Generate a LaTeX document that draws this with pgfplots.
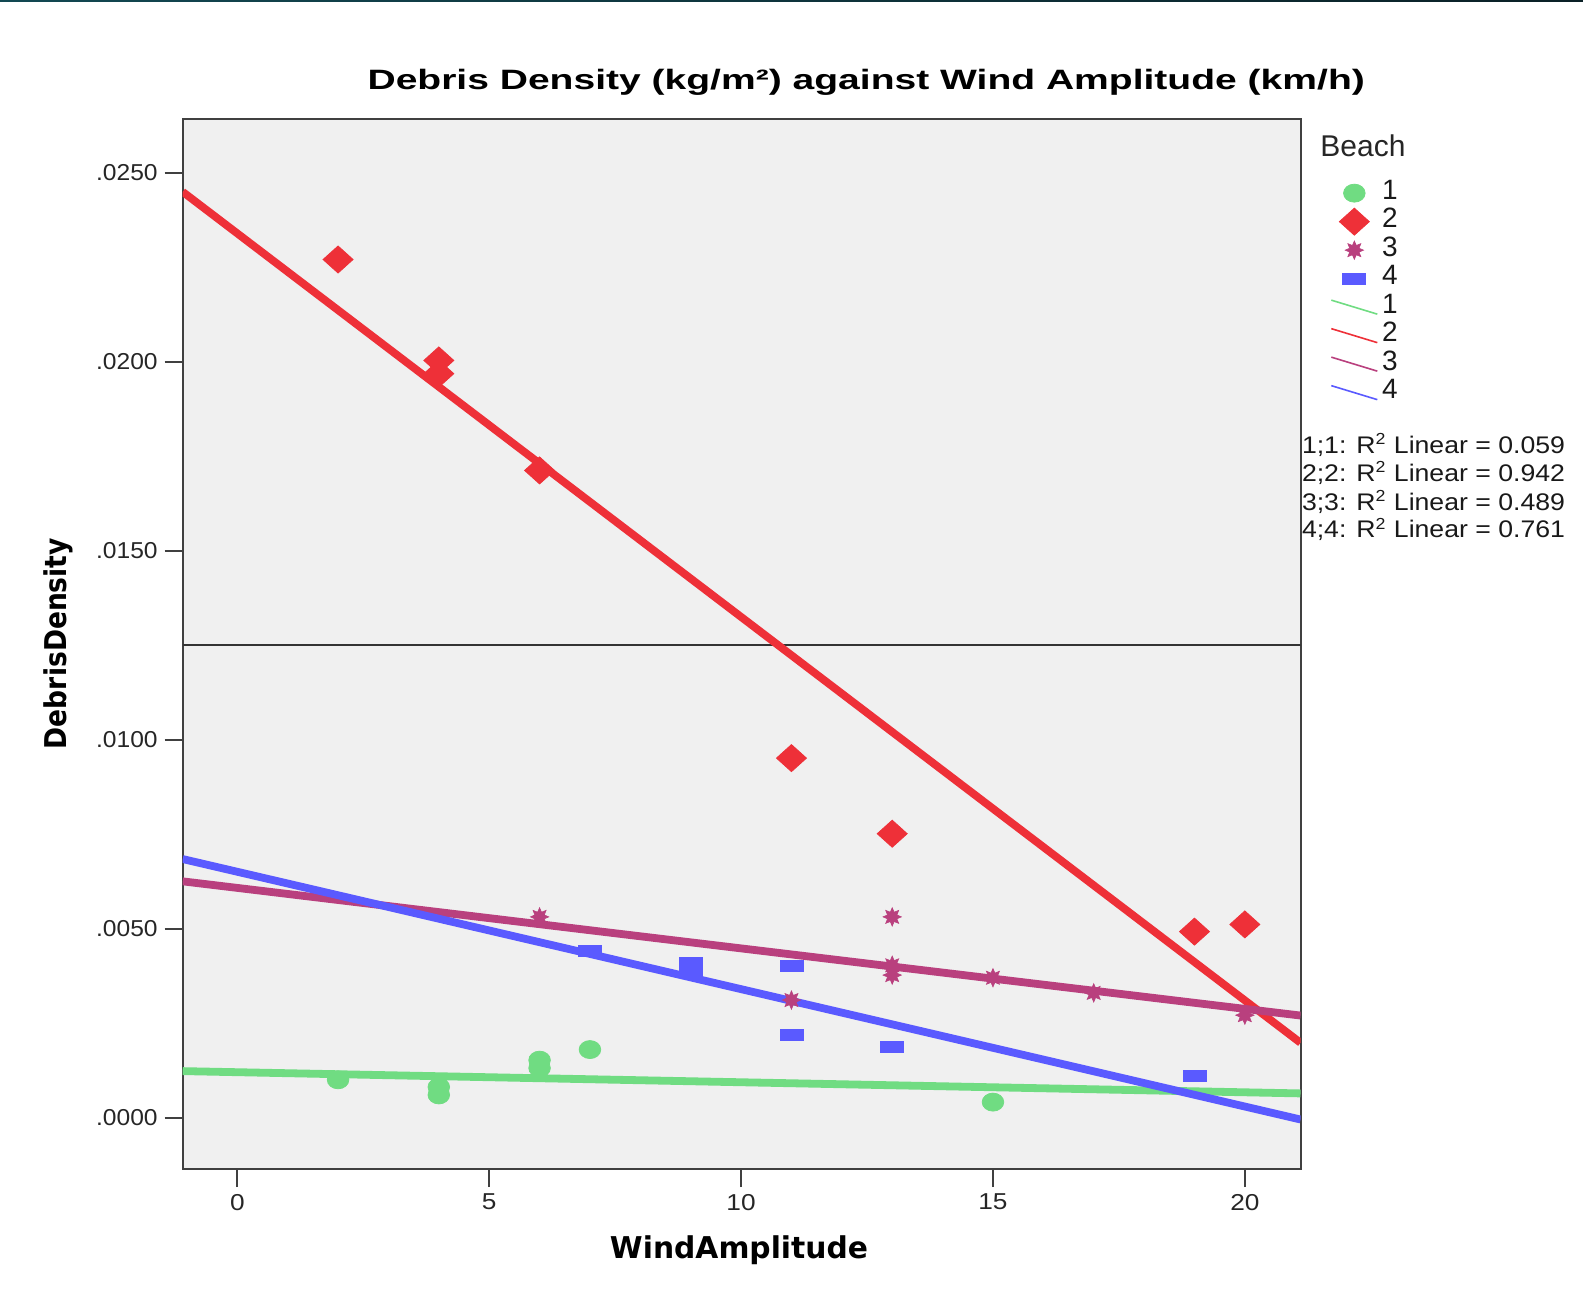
\documentclass[border=0pt]{standalone}
\usepackage{fontspec}
\setmainfont{Liberation Sans}
\newfontfamily\dejavu{DejaVu Sans}
\usepackage{graphicx}
\usepackage{pgfplots}
\pgfplotsset{compat=1.18}
\definecolor{bGreen}{RGB}{112,220,130}
\definecolor{bRed}{RGB}{238,48,56}
\definecolor{bPurple}{RGB}{185,64,126}
\definecolor{bBlue}{RGB}{90,90,255}
\definecolor{plotBg}{RGB}{240,240,240}
\definecolor{stripA}{RGB}{18,72,82}
\definecolor{stripB}{RGB}{10,32,38}
\newcommand{\tk}[1]{\scalebox{1.14}[1]{#1}}
\newcommand{\tky}[1]{\scalebox{1.07}[1]{#1}}
\newcommand{\rsq}[1]{\scalebox{1.11}[1]{\fontsize{12}{14}\selectfont #1}}
% filled eight-pointed burst, like the SPSS star marker
\pgfdeclareplotmark{burst}{%
  \pgfpathmoveto{\pgfpointpolar{90}{\pgfplotmarksize}}%
  \pgfpathlineto{\pgfpointpolar{112.5}{0.55\pgfplotmarksize}}%
  \pgfpathlineto{\pgfpointpolar{135}{\pgfplotmarksize}}%
  \pgfpathlineto{\pgfpointpolar{157.5}{0.55\pgfplotmarksize}}%
  \pgfpathlineto{\pgfpointpolar{180}{\pgfplotmarksize}}%
  \pgfpathlineto{\pgfpointpolar{202.5}{0.55\pgfplotmarksize}}%
  \pgfpathlineto{\pgfpointpolar{225}{\pgfplotmarksize}}%
  \pgfpathlineto{\pgfpointpolar{247.5}{0.55\pgfplotmarksize}}%
  \pgfpathlineto{\pgfpointpolar{270}{\pgfplotmarksize}}%
  \pgfpathlineto{\pgfpointpolar{292.5}{0.55\pgfplotmarksize}}%
  \pgfpathlineto{\pgfpointpolar{315}{\pgfplotmarksize}}%
  \pgfpathlineto{\pgfpointpolar{337.5}{0.55\pgfplotmarksize}}%
  \pgfpathlineto{\pgfpointpolar{0}{\pgfplotmarksize}}%
  \pgfpathlineto{\pgfpointpolar{22.5}{0.55\pgfplotmarksize}}%
  \pgfpathlineto{\pgfpointpolar{45}{\pgfplotmarksize}}%
  \pgfpathlineto{\pgfpointpolar{67.5}{0.55\pgfplotmarksize}}%
  \pgfpathclose
  \pgfusepathqfillstroke}
\pgfplotsset{
  lineleg/.style={legend image code/.code={\draw[##1] (0.3cm-11.5pt,3.5pt) -- (0.3cm+11.5pt,-3.5pt);}},
}

\begin{document}
\begin{tikzpicture}
\path[use as bounding box] (0,0) rectangle (791.5pt,649.5pt);
\fill[left color=stripA, right color=stripB] (0,648.5pt) rectangle (791.5pt,649.5pt);

% R squared notes (frame of the axis overlaps their first letters)
\node[anchor=base west, inner sep=0pt, text=black!90] at (650.8pt,422.7pt) {\rsq{1;1: R\textsuperscript{2} Linear = 0.059}};
\node[anchor=base west, inner sep=0pt, text=black!90] at (650.8pt,408.9pt) {\rsq{2;2: R\textsuperscript{2} Linear = 0.942}};
\node[anchor=base west, inner sep=0pt, text=black!90] at (650.8pt,394.4pt) {\rsq{3;3: R\textsuperscript{2} Linear = 0.489}};
\node[anchor=base west, inner sep=0pt, text=black!90] at (650.8pt,380.5pt) {\rsq{4;4: R\textsuperscript{2} Linear = 0.761}};

\begin{axis}[at={(91.35pt,64.95pt)}, anchor=south west, scale only axis,
  width=558.9pt, height=525pt,
  xmin=-1.084, xmax=21.105, ymin=-0.001362, ymax=0.026415,
  axis background/.style={fill=plotBg},
  axis line style={line width=1pt, black!75},
  tick align=outside, tick pos=left, major tick length=9pt,
  tick style={line width=1pt, black!75},
  xtick={0,5,10,15,20},
  xticklabels={\tk{0},\tk{5},\tk{10},\tk{15},\tk{20}},
  ytick={0,0.005,0.01,0.015,0.02,0.025},
  yticklabels={\tky{.0000},\tky{.0050},\tky{.0100},\tky{.0150},\tky{.0200},\tky{.0250}},
  scaled y ticks=false,
  tick label style={font=\fontsize{11.5}{13}\selectfont, text=black!85},
  legend cell align=left,
  legend style={at={(1.0265,0.9434)}, anchor=north west, draw=none, fill=none,
    font=\fontsize{14}{16}\selectfont, row sep=0pt, inner sep=0pt,
    nodes={inner ysep=0pt, text height=10.25pt, text depth=4pt, text=black!90}},
]
% reference line
\addplot[black!80, line width=0.8pt, forget plot] coordinates {(-1.084,0.0125) (21.105,0.0125)};

% Beach 1
\addplot[only marks, mark=*, color=bGreen, mark size=4.5pt, mark options={xscale=1.2}]
  coordinates {(2,0.00100) (4,0.00081) (4,0.00060) (6,0.00152) (6,0.00131) (7,0.00180) (15,0.00041)};
\addlegendentry{1}
% Beach 2
\addplot[only marks, mark=diamond*, color=bRed, mark size=6.75pt, mark options={xscale=1.48}]
  coordinates {(2,0.02270) (4,0.02003) (4,0.01968) (6,0.01712) (11,0.00951) (13,0.00751) (19,0.00492) (20,0.00511)};
\addlegendentry{2}
% Beach 3
\addplot[only marks, mark=burst, color=bPurple, mark size=4.6pt, mark options={fill=bPurple, line width=0.3pt}]
  coordinates {(6,0.00531) (11,0.00311) (13,0.00531) (13,0.00403) (13,0.00377) (15,0.00370) (17,0.00330) (20,0.00271)};
\addlegendentry{3}
% Beach 4
\addplot[only marks, mark=square*, color=bBlue, mark size=2.75pt, mark options={xscale=2.1}]
  coordinates {(7,0.00441) (9,0.00409) (9,0.00388) (11,0.00401) (11,0.00220) (13,0.00186) (19,0.00111)};
\addlegendentry{4}

\addlegendimage{lineleg, bGreen, line width=0.8pt}\addlegendentry{1}
\addlegendimage{lineleg, bRed, line width=0.8pt}\addlegendentry{2}
\addlegendimage{lineleg, bPurple, line width=0.8pt}\addlegendentry{3}
\addlegendimage{lineleg, bBlue, line width=0.8pt}\addlegendentry{4}

% linear fits
\addplot[bGreen, line width=3.9pt, forget plot] coordinates {(-1.084,0.00123) (21.105,0.00064)};
\addplot[bRed, line width=3.9pt, forget plot] coordinates {(-1.084,0.02449) (21.105,0.00198)};
\addplot[bPurple, line width=3.9pt, forget plot] coordinates {(-1.084,0.00625) (21.105,0.00270)};
\addplot[bBlue, line width=3.9pt, forget plot] coordinates {(-1.084,0.00684) (21.105,-0.00005)};
\end{axis}

\node[anchor=base, inner sep=0pt] at (433.1pt,604.5pt)
  {\resizebox{498.6pt}{\height}{\fontsize{14}{16}\selectfont\bfseries Debris Density (kg/m²) against Wind Amplitude (km/h)}};
\node[anchor=base, inner sep=0pt] at (369.5pt,20pt)
  {\resizebox{129pt}{\height}{\dejavu\fontsize{15}{17}\selectfont\bfseries WindAmplitude}};
\node[anchor=base, inner sep=0pt, rotate=90] at (33pt,327.7pt)
  {\resizebox{105.5pt}{\height}{\dejavu\fontsize{15}{17}\selectfont\bfseries DebrisDensity}};
\node[anchor=base west, inner sep=0pt, text=black!85] at (660pt,571.2pt)
  {\fontsize{15}{17}\selectfont Beach};
\end{tikzpicture}
\end{document}
